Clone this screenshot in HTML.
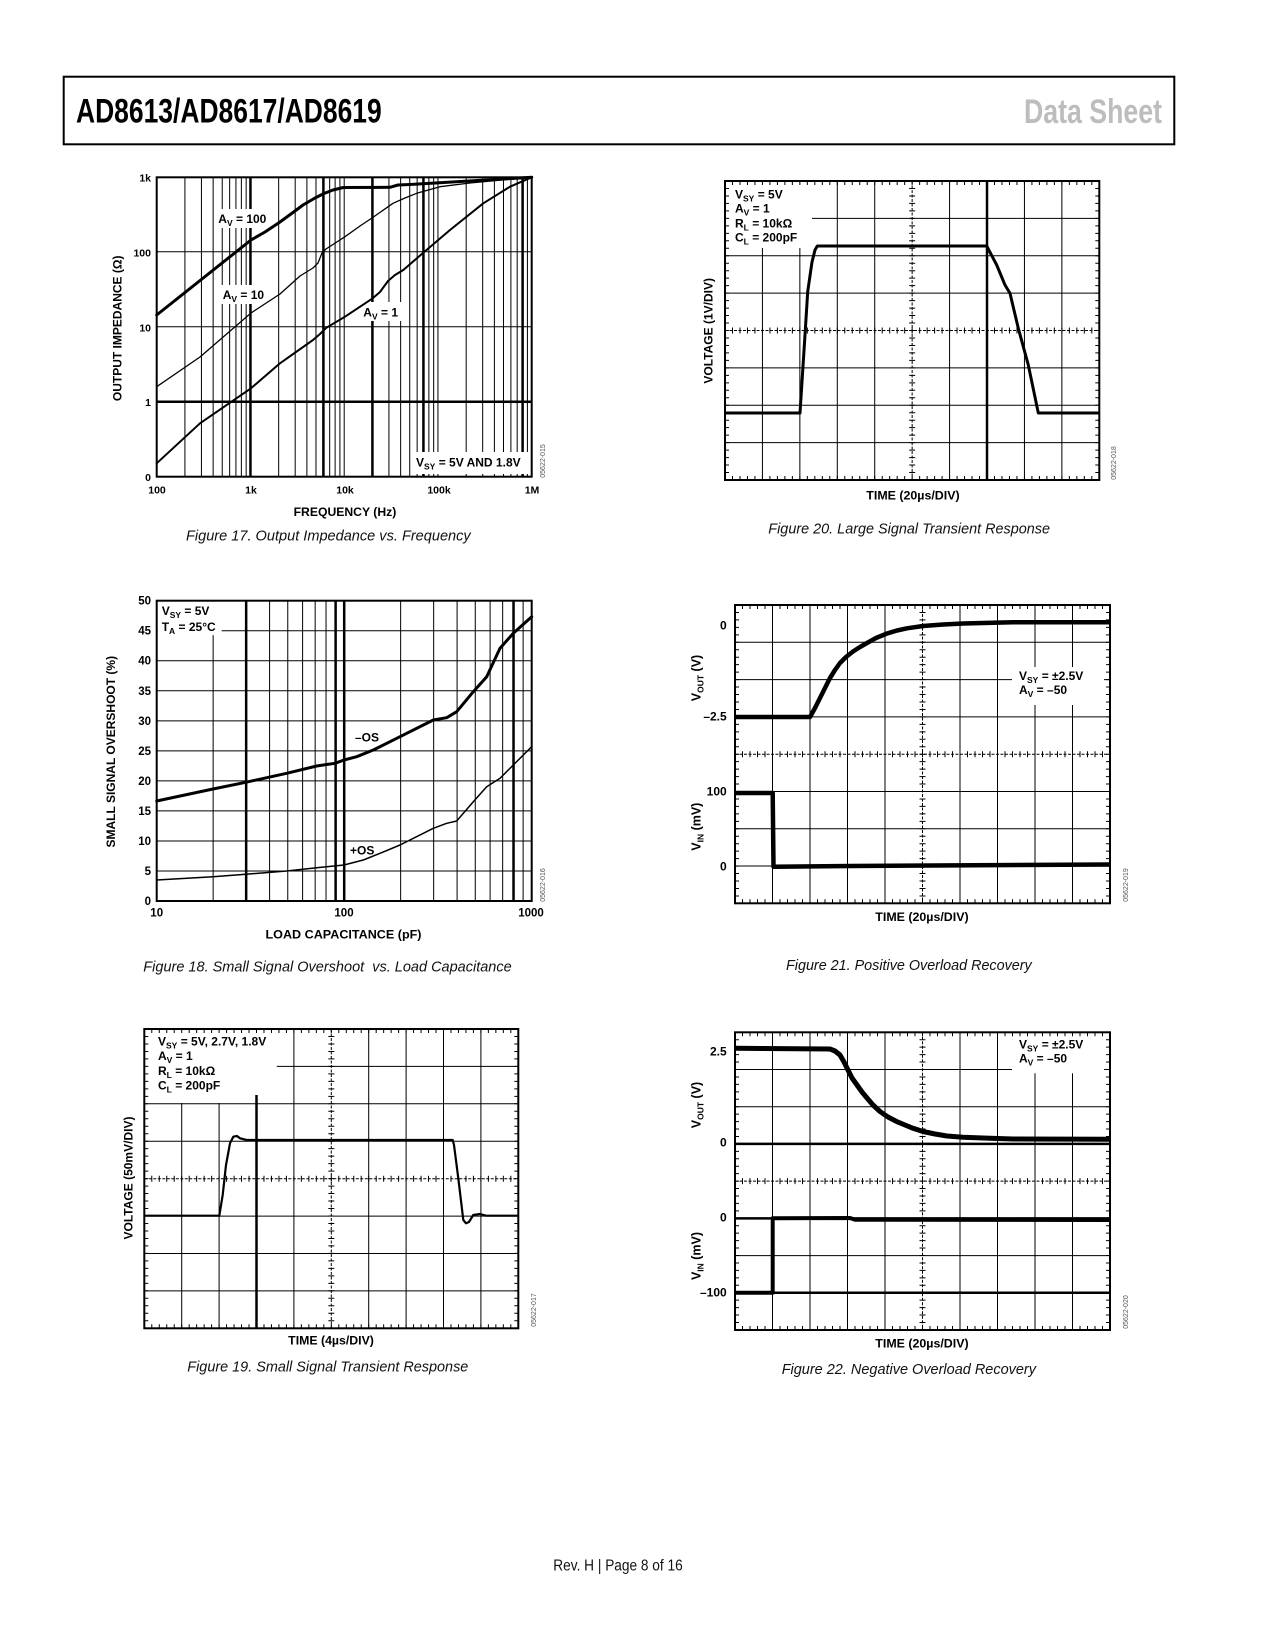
<!DOCTYPE html>
<html>
<head>
<meta charset="utf-8">
<style>
html,body{margin:0;padding:0;background:#fff;}
svg{display:block;}
.b{font-family:"Liberation Sans",Arial,sans-serif;font-weight:bold;fill:#000;}
.cap{font-family:"Liberation Sans",Arial,sans-serif;font-style:italic;font-size:15px;fill:#111;}
.code{font-family:"Liberation Sans",Arial,sans-serif;font-size:7px;fill:#555;}
</style>
</head>
<body>
<svg width="1275" height="1650" viewBox="0 0 1275 1650" xmlns="http://www.w3.org/2000/svg">
<rect x="0" y="0" width="1275" height="1650" fill="#fff"/>

<!-- ================= HEADER ================= -->
<rect x="63.7" y="76.7" width="1110.6" height="67.6" fill="none" stroke="#000" stroke-width="2"/>
<text x="76" y="122.7" font-family="'Liberation Sans Narrow','Liberation Sans',Arial,sans-serif" font-weight="bold" font-size="34" textLength="305.7" lengthAdjust="spacingAndGlyphs" fill="#000">AD8613/AD8617/AD8619</text>
<text x="1024" y="123" font-family="'Liberation Sans Narrow','Liberation Sans',Arial,sans-serif" font-weight="bold" font-size="34" textLength="138" lengthAdjust="spacingAndGlyphs" fill="#bdbdbd">Data Sheet</text>

<!-- ================= FIG 17 ================= -->
<g fill="none" stroke="#000">
  <path stroke-width="1" d="M184.92 177.3V476.7M201.43 177.3V476.7M213.14 177.3V476.7M222.23 177.3V476.7M229.65 177.3V476.7M235.93 177.3V476.7M241.36 177.3V476.7M246.16 177.3V476.7
  M278.67 177.3V476.7M295.18 177.3V476.7M306.89 177.3V476.7M315.98 177.3V476.7M329.68 177.3V476.7M335.11 177.3V476.7M339.91 177.3V476.7M344.2 177.3V476.7
  M388.93 177.3V476.7M400.64 177.3V476.7M409.73 177.3V476.7M417.15 177.3V476.7M428.86 177.3V476.7M433.66 177.3V476.7M437.95 177.3V476.7
  M466.17 177.3V476.7M482.68 177.3V476.7M494.39 177.3V476.7M503.48 177.3V476.7M510.9 177.3V476.7M517.18 177.3V476.7M527.41 177.3V476.7
  M156.7 251.7H531.7M156.7 326.7H531.7"/>
  <path stroke-width="2.5" d="M250.45 177.3V476.7M323.4 177.3V476.7M372.42 177.3V476.7M423.43 177.3V476.7M522.61 177.3V476.7M156.7 401.7H531.7"/>
</g>
<rect x="216" y="209" width="54" height="19" fill="#fff"/>
<rect x="220" y="285" width="49" height="19" fill="#fff"/>
<rect x="361" y="302" width="42" height="19" fill="#fff"/>
<rect x="413" y="452" width="117" height="22" fill="#fff"/>
<rect x="156.7" y="177.3" width="375" height="299.4" fill="none" stroke="#000" stroke-width="2"/>
<g fill="none" stroke="#000" stroke-linejoin="round" stroke-linecap="round">
  <path stroke-width="3" d="M156.7 315L251 240L265 232L280 222L295 211L303 205L315 198L324 193.5L333 190L343.3 187.5L390 187.3L398 185L410 184.5L531.7 177.3"/>
  <path stroke-width="1.3" d="M156.7 386.7L200 357L251 313L280 294L290 285L300 276L313 268L318 263L322 253L326 249L345 236.7L360 226L372 218L393 203.3L405 198L416.7 193.3L440 186.7L470 183L531.7 177.3"/>
  <path stroke-width="2" d="M156.7 463.3L200 423.3L251 388.3L280 363.3L313 340L320 334L326 328L345 316.7L372.7 298.3L380 292L388 281L395 275L403.3 270L423.3 252.7L450 230L483.3 203.3L510 186.7L531.7 177.3"/>
</g>
<text class="b" font-size="12" x="218.3" y="223">A<tspan dy="3" font-size="8.5">V</tspan><tspan dy="-3"> = 100</tspan></text>
<text class="b" font-size="12" x="222.7" y="299">A<tspan dy="3" font-size="8.5">V</tspan><tspan dy="-3"> = 10</tspan></text>
<text class="b" font-size="12" x="363.3" y="316.7">A<tspan dy="3" font-size="8.5">V</tspan><tspan dy="-3"> = 1</tspan></text>
<text class="b" font-size="12" x="416" y="466.7">V<tspan dy="3" font-size="8.5">SY</tspan><tspan dy="-3"> = 5V AND 1.8V</tspan></text>
<g class="b" font-size="10.5" text-anchor="end">
  <text x="151" y="181.3">1k</text>
  <text x="151" y="256.3">100</text>
  <text x="151" y="331.3">10</text>
  <text x="151" y="406">1</text>
  <text x="151" y="481">0</text>
</g>
<g class="b" font-size="10.5" text-anchor="middle">
  <text x="157" y="493.3">100</text>
  <text x="251" y="493.3">1k</text>
  <text x="345" y="493.3">10k</text>
  <text x="439" y="493.3">100k</text>
  <text x="532" y="493.3">1M</text>
</g>
<text class="b" font-size="12" x="293.6" y="516" textLength="102.7" lengthAdjust="spacingAndGlyphs">FREQUENCY (Hz)</text>
<text class="b" font-size="12" text-anchor="middle" x="121.7" y="328.3" transform="rotate(-90 121.7 328.3)">OUTPUT IMPEDANCE (Ω)</text>
<text class="code" text-anchor="middle" x="545" y="461" transform="rotate(-90 545 461)">05622-015</text>
<text class="cap" x="186" y="540.7" textLength="284.7" lengthAdjust="spacingAndGlyphs">Figure 17. Output Impedance vs. Frequency</text>

<!-- ================= FIG 18 ================= -->
<g fill="none" stroke="#000">
  <path stroke-width="1" d="M213.14 600.7V901M269.59 600.7V901M287.76 600.7V901M302.6 600.7V901M315.16 600.7V901M326.03 600.7V901
  M400.64 600.7V901M433.66 600.7V901M457.09 600.7V901M475.26 600.7V901M490.1 600.7V901M502.66 600.7V901M523.12 600.7V901
  M156.7 630.73H531.7M156.7 660.76H531.7M156.7 690.79H531.7M156.7 720.82H531.7M156.7 750.85H531.7M156.7 780.88H531.7M156.7 810.91H531.7M156.7 840.94H531.7M156.7 870.97H531.7"/>
  <path stroke-width="2.5" d="M246.16 600.7V901M335.62 600.7V901M344.2 600.7V901M513.53 600.7V901"/>
</g>
<rect x="157.7" y="601.7" width="64" height="33.5" fill="#fff"/>
<rect x="156.7" y="600.7" width="375" height="300.3" fill="none" stroke="#000" stroke-width="2"/>
<g fill="none" stroke="#000" stroke-linejoin="round" stroke-linecap="round">
  <path stroke-width="3" d="M156.7 801L213 789L245.7 782.3L286.7 773.3L316.7 766L335 763.3L344 760L356.7 756.7L373.3 750L400 736.7L433.3 720L446.7 717.7L456.7 711.7L473.3 691.7L486.7 676.7L500 648.3L513.3 633.3L531.7 616.7"/>
  <path stroke-width="1.5" d="M156.7 880L213 876.7L245.7 874.3L286.7 871L316.7 867.7L344 865L363.3 860L380 853.3L400 845L433.3 828.3L446.7 823.3L456.7 821L473.3 801.7L486.7 786.7L500 778.3L513.3 765L531.7 746.7"/>
</g>
<text class="b" font-size="12" x="161.7" y="615">V<tspan dy="3" font-size="8.5">SY</tspan><tspan dy="-3"> = 5V</tspan></text>
<text class="b" font-size="12" x="161.7" y="631">T<tspan dy="3" font-size="8.5">A</tspan><tspan dy="-3"> = 25°C</tspan></text>
<text class="b" font-size="12" x="355" y="741.7">–OS</text>
<text class="b" font-size="12" x="350" y="854.3">+OS</text>
<g class="b" font-size="11.5" text-anchor="end">
  <text x="151" y="604.7">50</text>
  <text x="151" y="634.7">45</text>
  <text x="151" y="664.7">40</text>
  <text x="151" y="694.8">35</text>
  <text x="151" y="724.8">30</text>
  <text x="151" y="754.8">25</text>
  <text x="151" y="784.9">20</text>
  <text x="151" y="814.9">15</text>
  <text x="151" y="844.9">10</text>
  <text x="151" y="875">5</text>
  <text x="151" y="905">0</text>
</g>
<g class="b" font-size="11.5" text-anchor="middle">
  <text x="156.7" y="916.7">10</text>
  <text x="344" y="916.7">100</text>
  <text x="531" y="916.7">1000</text>
</g>
<text class="b" font-size="12" x="265.5" y="938.3" textLength="156" lengthAdjust="spacingAndGlyphs">LOAD CAPACITANCE (pF)</text>
<text class="b" font-size="12" x="115" y="751.7" transform="rotate(-90 115 751.7)" text-anchor="middle">SMALL SIGNAL OVERSHOOT (%)</text>
<text class="code" text-anchor="middle" x="545" y="885" transform="rotate(-90 545 885)">05622-016</text>
<text class="cap" x="143.3" y="971.7" textLength="368.4" lengthAdjust="spacingAndGlyphs" xml:space="preserve">Figure 18. Small Signal Overshoot  vs. Load Capacitance</text>

<!-- ================= FIG 19 ================= -->
<g fill="none" stroke="#000">
  <path stroke-width="1" d="M181.7 1029V1328.3M219.1 1029V1328.3M293.9 1029V1328.3M368.7 1029V1328.3M406.1 1029V1328.3M443.5 1029V1328.3M480.9 1029V1328.3
  M144.3 1066.4H518.3M144.3 1103.8H518.3M144.3 1141.2H518.3M144.3 1216.1H518.3M144.3 1253.5H518.3M144.3 1290.9H518.3"/>
  <path stroke-width="2.5" d="M256.5 1029V1328.3"/>
  <path stroke-width="1" stroke-dasharray="3 1.5" d="M331.3 1029V1328.3M144.3 1178.7H518.3"/>
</g>
<rect x="145.3" y="1030" width="131.5" height="65" fill="#fff"/>
<rect x="145.3" y="1030" width="95" height="73" fill="#fff"/>
<g fill="none" stroke="#000">
  <rect x="144.3" y="1029" width="374" height="299.3" stroke-width="2"/>
  <line x1="146.3" y1="1029" x2="146.3" y2="1328.3" stroke-width="4" stroke-dasharray="1 6.48" stroke-dashoffset="0.5"/>
  <line x1="516.3" y1="1029" x2="516.3" y2="1328.3" stroke-width="4" stroke-dasharray="1 6.48" stroke-dashoffset="0.5"/>
  <line x1="144.3" y1="1031" x2="518.3" y2="1031" stroke-width="4" stroke-dasharray="1 6.48" stroke-dashoffset="0.5"/>
  <line x1="144.3" y1="1326.3" x2="518.3" y2="1326.3" stroke-width="4" stroke-dasharray="1 6.48" stroke-dashoffset="0.5"/>
  <line x1="144.3" y1="1178.7" x2="518.3" y2="1178.7" stroke-width="6" stroke-dasharray="1 6.48" stroke-dashoffset="0.5"/>
  <line x1="331.3" y1="1029" x2="331.3" y2="1328.3" stroke-width="6" stroke-dasharray="1 6.48" stroke-dashoffset="0.5"/>
</g>
<path fill="none" stroke="#000" stroke-width="2.2" stroke-linejoin="round" d="M144.3 1215.7L219.3 1215.7L222.7 1195L226 1165L230 1143.3L233.3 1136.7L237 1136L240 1138.3L246.7 1140L452.7 1140L454 1145L458.3 1178.3L463.3 1220L466 1223.3L469 1222L473.3 1215L480 1214L486 1215.7L518.3 1215.7"/>
<g class="b" font-size="12">
  <text x="158" y="1045.7">V<tspan dy="3" font-size="8.5">SY</tspan><tspan dy="-3"> = 5V, 2.7V, 1.8V</tspan></text>
  <text x="158" y="1060">A<tspan dy="3" font-size="8.5">V</tspan><tspan dy="-3"> = 1</tspan></text>
  <text x="158" y="1075">R<tspan dy="3" font-size="8.5">L</tspan><tspan dy="-3"> = 10kΩ</tspan></text>
  <text x="158" y="1089.3">C<tspan dy="3" font-size="8.5">L</tspan><tspan dy="-3"> = 200pF</tspan></text>
</g>
<text class="b" font-size="12" x="288.2" y="1344.3" textLength="85.7" lengthAdjust="spacingAndGlyphs">TIME (4µs/DIV)</text>
<text class="b" font-size="12" x="132.7" y="1178" transform="rotate(-90 132.7 1178)" text-anchor="middle">VOLTAGE (50mV/DIV)</text>
<text class="code" text-anchor="middle" x="536" y="1310" transform="rotate(-90 536 1310)">05622-017</text>
<text class="cap" x="187.3" y="1371.7" textLength="281" lengthAdjust="spacingAndGlyphs">Figure 19. Small Signal Transient Response</text>

<!-- ================= FIG 20 ================= -->
<g fill="none" stroke="#000">
  <path stroke-width="1" d="M762.43 181V480M799.86 181V480M837.29 181V480M874.72 181V480M949.58 181V480M1024.44 181V480M1061.87 181V480
  M725 218.4H1099.3M725 255.75H1099.3M725 293.1H1099.3M725 367.9H1099.3M725 405.25H1099.3M725 442.6H1099.3"/>
  <path stroke-width="2.5" d="M987.01 181V480"/>
  <path stroke-width="1" stroke-dasharray="3 1.5" d="M912.15 181V480M725 330.5H1099.3"/>
</g>
<rect x="726" y="182" width="86" height="66" fill="#fff"/>
<g fill="none" stroke="#000">
  <rect x="725" y="181" width="374.3" height="299" stroke-width="2"/>
  <line x1="727" y1="181" x2="727" y2="480" stroke-width="4" stroke-dasharray="1 6.475" stroke-dashoffset="0.5"/>
  <line x1="1097.3" y1="181" x2="1097.3" y2="480" stroke-width="4" stroke-dasharray="1 6.475" stroke-dashoffset="0.5"/>
  <line x1="725" y1="183" x2="1099.3" y2="183" stroke-width="4" stroke-dasharray="1 6.486" stroke-dashoffset="0.5"/>
  <line x1="725" y1="478" x2="1099.3" y2="478" stroke-width="4" stroke-dasharray="1 6.486" stroke-dashoffset="0.5"/>
  <line x1="725" y1="330.5" x2="1099.3" y2="330.5" stroke-width="6" stroke-dasharray="1 6.486" stroke-dashoffset="0.5"/>
  <line x1="912.15" y1="181" x2="912.15" y2="480" stroke-width="6" stroke-dasharray="1 6.475" stroke-dashoffset="0.5"/>
</g>
<path fill="none" stroke="#000" stroke-width="3" stroke-linejoin="round" d="M725 413L800 413L805 335L807.7 291.7L812 262L815 250L817.3 246L986.7 246L996.7 265L1005 285L1010 293.3L1018.3 328.3L1028.3 365L1038.3 413L1099.3 413"/>
<g class="b" font-size="12">
  <text x="735" y="198.3">V<tspan dy="3" font-size="8.5">SY</tspan><tspan dy="-3"> = 5V</tspan></text>
  <text x="735" y="212.3">A<tspan dy="3" font-size="8.5">V</tspan><tspan dy="-3"> = 1</tspan></text>
  <text x="735" y="227.7">R<tspan dy="3" font-size="8.5">L</tspan><tspan dy="-3"> = 10kΩ</tspan></text>
  <text x="735" y="241.7">C<tspan dy="3" font-size="8.5">L</tspan><tspan dy="-3"> = 200pF</tspan></text>
</g>
<text class="b" font-size="12" x="866.3" y="499.3" textLength="93.3" lengthAdjust="spacingAndGlyphs">TIME (20µs/DIV)</text>
<text class="b" font-size="12" x="712.7" y="330.8" transform="rotate(-90 712.7 330.8)" text-anchor="middle">VOLTAGE (1V/DIV)</text>
<text class="code" text-anchor="middle" x="1116" y="463" transform="rotate(-90 1116 463)">05622-018</text>
<text class="cap" x="768.3" y="533.3" textLength="281.7" lengthAdjust="spacingAndGlyphs">Figure 20. Large Signal Transient Response</text>

<!-- ================= FIG 21 ================= -->
<g fill="none" stroke="#000">
  <path stroke-width="1" d="M772.5 605V903.3M810 605V903.3M847.5 605V903.3M885 605V903.3M960 605V903.3M997.5 605V903.3M1035 605V903.3M1072.5 605V903.3
  M735 642.3H1110M735 679.6H1110M735 716.9H1110M735 791.5H1110M735 828.7H1110M735 866H1110"/>
  <path stroke-width="1" stroke-dasharray="3 1.5" d="M922.5 605V903.3M735 754.2H1110"/>
</g>
<rect x="1012" y="667" width="92" height="38" fill="#fff"/>
<g fill="none" stroke="#000">
  <rect x="735" y="605" width="375" height="298.3" stroke-width="2"/>
  <line x1="737" y1="605" x2="737" y2="903.3" stroke-width="4" stroke-dasharray="1 6.46" stroke-dashoffset="0.5"/>
  <line x1="1108" y1="605" x2="1108" y2="903.3" stroke-width="4" stroke-dasharray="1 6.46" stroke-dashoffset="0.5"/>
  <line x1="735" y1="607" x2="1110" y2="607" stroke-width="4" stroke-dasharray="1 6.5" stroke-dashoffset="0.5"/>
  <line x1="735" y1="901.3" x2="1110" y2="901.3" stroke-width="4" stroke-dasharray="1 6.5" stroke-dashoffset="0.5"/>
  <line x1="735" y1="754.2" x2="1110" y2="754.2" stroke-width="6" stroke-dasharray="1 6.5" stroke-dashoffset="0.5"/>
  <line x1="922.5" y1="605" x2="922.5" y2="903.3" stroke-width="6" stroke-dasharray="1 6.46" stroke-dashoffset="0.5"/>
</g>
<g fill="none" stroke="#000" stroke-linejoin="round">
  <path stroke-width="4.5" d="M735 717L810 717L815 708L820 698L825 688L830 678L835 670L840 663L846 657L853 651.5L860 647L867 643L876 638L887 633.5L897 630.5L907 628.3L923 626L943 624.5L963 623.5L1013 622.3L1110 622.3"/>
  <path stroke-width="4.5" d="M735 793L772.7 793L773.5 866.7L850 866L1110 864.5"/>
</g>
<g class="b" font-size="12">
  <text x="1019" y="680">V<tspan dy="3" font-size="8.5">SY</tspan><tspan dy="-3"> = ±2.5V</tspan></text>
  <text x="1019" y="694">A<tspan dy="3" font-size="8.5">V</tspan><tspan dy="-3"> = –50</tspan></text>
</g>
<g class="b" font-size="12" text-anchor="end">
  <text x="726.7" y="629.3">0</text>
  <text x="726.7" y="720.7">–2.5</text>
  <text x="726.7" y="795.7">100</text>
  <text x="726.7" y="870.7">0</text>
</g>
<text class="b" font-size="12.5" x="700.5" y="678" transform="rotate(-90 700.5 678)" text-anchor="middle">V<tspan dy="3" font-size="8.5">OUT</tspan><tspan dy="-3"> (V)</tspan></text>
<text class="b" font-size="12.5" x="700.5" y="826.7" transform="rotate(-90 700.5 826.7)" text-anchor="middle">V<tspan dy="3" font-size="8.5">IN</tspan><tspan dy="-3"> (mV)</tspan></text>
<text class="b" font-size="12" x="875.3" y="921" textLength="93.3" lengthAdjust="spacingAndGlyphs">TIME (20µs/DIV)</text>
<text class="code" text-anchor="middle" x="1128" y="885" transform="rotate(-90 1128 885)">05622-019</text>
<text class="cap" x="786" y="970" textLength="245.7" lengthAdjust="spacingAndGlyphs">Figure 21. Positive Overload Recovery</text>

<!-- ================= FIG 22 ================= -->
<g fill="none" stroke="#000">
  <path stroke-width="1" d="M772.5 1032.3V1330M810 1032.3V1330M847.5 1032.3V1330M885 1032.3V1330M960 1032.3V1330M997.5 1032.3V1330M1035 1032.3V1330M1072.5 1032.3V1330
  M735 1069.5H1110M735 1106.7H1110M735 1255.6H1110"/>
  <path stroke-width="2.5" d="M735 1143.9H1110M735 1218.4H1110M735 1292.8H1110"/>
  <path stroke-width="1" stroke-dasharray="3 1.5" d="M922.5 1032.3V1330M735 1181.1H1110"/>
</g>
<rect x="1012" y="1033" width="92" height="40.3" fill="#fff"/>
<g fill="none" stroke="#000">
  <rect x="735" y="1032.3" width="375" height="297.7" stroke-width="2"/>
  <line x1="737" y1="1032.3" x2="737" y2="1330" stroke-width="4" stroke-dasharray="1 6.44" stroke-dashoffset="0.5"/>
  <line x1="1108" y1="1032.3" x2="1108" y2="1330" stroke-width="4" stroke-dasharray="1 6.44" stroke-dashoffset="0.5"/>
  <line x1="735" y1="1034.3" x2="1110" y2="1034.3" stroke-width="4" stroke-dasharray="1 6.5" stroke-dashoffset="0.5"/>
  <line x1="735" y1="1328" x2="1110" y2="1328" stroke-width="4" stroke-dasharray="1 6.5" stroke-dashoffset="0.5"/>
  <line x1="735" y1="1181.1" x2="1110" y2="1181.1" stroke-width="6" stroke-dasharray="1 6.5" stroke-dashoffset="0.5"/>
  <line x1="922.5" y1="1032.3" x2="922.5" y2="1330" stroke-width="6" stroke-dasharray="1 6.44" stroke-dashoffset="0.5"/>
</g>
<g fill="none" stroke="#000" stroke-linejoin="round">
  <path stroke-width="5" d="M735 1048.3L830 1049L835 1051L840 1055L844 1062L848 1070L852 1078L857 1085L862 1092L867 1098L873 1105L880 1111.5L888 1117L897 1121.7L905 1125L913 1128.3L923 1131.5L935 1134L947 1136L963 1137.3L990 1138.3L1013 1139L1110 1139.3"/>
  <path stroke-width="4" d="M735 1292.7L772.7 1292.7L772.7 1218.3L850 1218L855 1219.7L1110 1220"/>
</g>
<g class="b" font-size="12">
  <text x="1019" y="1048.3">V<tspan dy="3" font-size="8.5">SY</tspan><tspan dy="-3"> = ±2.5V</tspan></text>
  <text x="1019" y="1062.3">A<tspan dy="3" font-size="8.5">V</tspan><tspan dy="-3"> = –50</tspan></text>
</g>
<g class="b" font-size="12" text-anchor="end">
  <text x="726.7" y="1055.7">2.5</text>
  <text x="726.7" y="1146.7">0</text>
  <text x="726.7" y="1221.7">0</text>
  <text x="726.7" y="1296.7">–100</text>
</g>
<text class="b" font-size="12.5" x="700.5" y="1105" transform="rotate(-90 700.5 1105)" text-anchor="middle">V<tspan dy="3" font-size="8.5">OUT</tspan><tspan dy="-3"> (V)</tspan></text>
<text class="b" font-size="12.5" x="700.5" y="1256" transform="rotate(-90 700.5 1256)" text-anchor="middle">V<tspan dy="3" font-size="8.5">IN</tspan><tspan dy="-3"> (mV)</tspan></text>
<text class="b" font-size="12" x="875.3" y="1347.7" textLength="93.3" lengthAdjust="spacingAndGlyphs">TIME (20µs/DIV)</text>
<text class="code" text-anchor="middle" x="1128" y="1312" transform="rotate(-90 1128 1312)">05622-020</text>
<text class="cap" x="781.7" y="1374" textLength="254.3" lengthAdjust="spacingAndGlyphs">Figure 22. Negative Overload Recovery</text>

<!-- ================= FOOTER ================= -->
<text x="553.3" y="1570.7" font-family="'Liberation Sans',Arial,sans-serif" font-size="15.5" textLength="129.4" lengthAdjust="spacingAndGlyphs" fill="#111">Rev. H | Page 8 of 16</text>
</svg>
</body>
</html>
